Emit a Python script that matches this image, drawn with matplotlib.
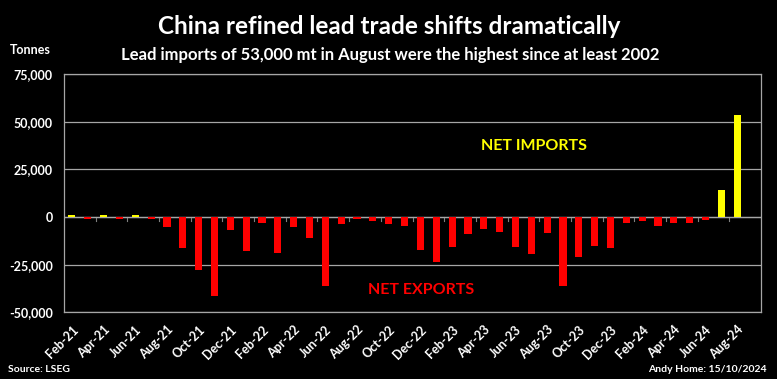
import matplotlib
matplotlib.use("Agg")
import matplotlib.pyplot as plt
import numpy as np

# ── Data (tonnes, net trade; + = net imports) ───────────
months = ["Feb-21", "Mar-21", "Apr-21", "May-21", "Jun-21", "Jul-21", "Aug-21", "Sep-21",
          "Oct-21", "Nov-21", "Dec-21", "Jan-22", "Feb-22", "Mar-22", "Apr-22", "May-22",
          "Jun-22", "Jul-22", "Aug-22", "Sep-22", "Oct-22", "Nov-22", "Dec-22", "Jan-23",
          "Feb-23", "Mar-23", "Apr-23", "May-23", "Jun-23", "Jul-23", "Aug-23", "Sep-23",
          "Oct-23", "Nov-23", "Dec-23", "Jan-24", "Feb-24", "Mar-24", "Apr-24", "May-24",
          "Jun-24", "Jul-24", "Aug-24"]
net_trade = [1000, -1000, 1000, -1000, 1000, -1000, -5100, -16400,
             -27800, -41500, -6900, -17800, -3300, -18800, -5100, -10900,
             -36400, -3500, -1000, -1900, -3500, -4600, -17100, -23400,
             -15700, -9000, -6200, -7900, -15700, -19500, -8300, -36400,
             -20800, -15000, -16200, -3300, -2300, -4900, -3300, -3200,
             -1400, 14300, 53500]
y_ticks = [-50000, -25000, 0, 25000, 50000, 75000]

BG = "black"
GRID = "#a6a6a6"
plt.rcParams["font.family"] = ["Lato", "DejaVu Sans"]

fig = plt.figure(figsize=(7.77, 3.79), dpi=100, facecolor=BG)
ax = fig.add_axes([64 / 777, 0.176, 697 / 777, 0.628])
ax.set_facecolor(BG)

x = np.arange(len(months))
colors = ["#ffff00" if v >= 0 else "#ff0000" for v in net_trade]
ax.bar(x, net_trade, width=0.45, color=colors, zorder=3)

# 44 category slots (last one empty, as in the source chart)
ax.set_xlim(-0.5, len(months) + 0.5)
ax.set_ylim(-50000, 75000)
ax.set_yticks(y_ticks)
ax.set_yticklabels([f"{v:,}" for v in y_ticks], color="white", fontsize=9, fontweight="bold")
ax.tick_params(axis="y", length=0, pad=8)
ax.grid(axis="y", color=GRID, linewidth=0.9, zorder=0)

# category labels every 2 months, rotated
ax.set_xticks(x[::2])
ax.set_xticklabels(months[::2], rotation=45, ha="right", rotation_mode="anchor",
                   color="white", fontsize=9, fontweight="bold")
ax.tick_params(axis="x", length=0, pad=8)

# small tick marks on the zero line at category boundaries
for b in np.arange(1.5, len(months) + 0.5, 2):
    ax.plot([b, b], [0, -1800], color="#808080", linewidth=0.8, zorder=2)
ax.axhline(0, color=GRID, linewidth=0.9, zorder=2)

for s in ax.spines.values():
    s.set_color(GRID)
    s.set_linewidth(0.9)

ax.text(0.674, 0.70, "NET IMPORTS", transform=ax.transAxes, color="#ffff00",
        fontsize=11.5, fontweight="bold", ha="center", va="center")
ax.text(0.513, 0.094, "NET EXPORTS", transform=ax.transAxes, color="#ff0000",
        fontsize=11.5, fontweight="bold", ha="center", va="center")

# ── Titles & notes ──────────────────────────────────────
fig.text(389 / 777, 1 - 27 / 379, "China refined lead trade shifts dramatically",
         color="white", fontsize=17.5, fontweight="bold", ha="center", va="center")
fig.text(390 / 777, 1 - 55 / 379,
         "Lead imports of 53,000 mt in August were the highest since at least 2002",
         color="white", fontsize=12, fontweight="bold", ha="center", va="center")
fig.text(10 / 777, 1 - 50 / 379, "Tonnes", color="white", fontsize=9,
         fontweight="bold", ha="left", va="center")
fig.text(8 / 777, 1 - 369 / 379, "Source: LSEG", color="white", fontsize=7.5,
         fontweight="bold", ha="left", va="center")
fig.text(767 / 777, 1 - 369 / 379, "Andy Home: 15/10/2024", color="white", fontsize=7.5,
         fontweight="bold", ha="right", va="center")

fig.savefig("out.png", dpi=100, facecolor=BG)
